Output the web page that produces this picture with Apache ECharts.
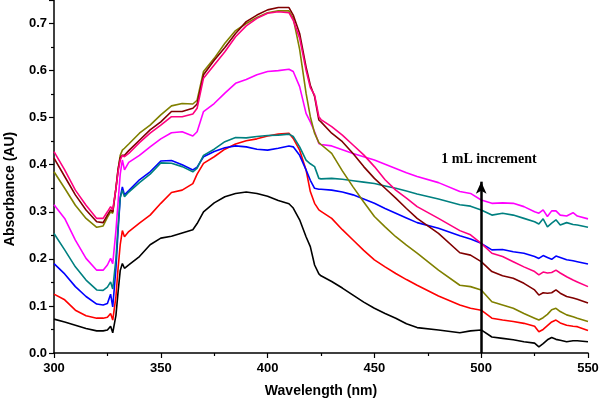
<!DOCTYPE html>
<html><head><meta charset="utf-8">
<script src="https://cdn.jsdelivr.net/npm/echarts@6/dist/echarts.min.js"></script>
<style>html,body{margin:0;padding:0;background:#fff}#c{width:599px;height:402px}</style>
</head><body><div id="c"></div>
<script>
const wavelength = [300,305,310,315,320,323,325,326.5,327.5,329,330,331,332,333,335,340,345,350,355,360,365,367,370,375,380,385,390,395,400,405,410,412,415,418,420,422,424,425,430,435,440,445,450,455,460,465,470,480,490,495,500,505,510,515,520,525,527,529,531,533,535,537,540,543,545,550];

const blackVals = [.072,.066,.059,.052,.047,.047,.049,.057,.043,.08,.13,.175,.19,.18,.187,.205,.23,.244,.248,.255,.262,.275,.30,.319,.332,.339,.342,.339,.333,.324,.317,.308,.283,.247,.226,.187,.168,.164,.152,.138,.123,.108,.095,.084,.074,.062,.054,.049,.043,.047,.049,.034,.031,.028,.024,.021,.013,.02,.028,.033,.029,.027,.024,.026,.026,.024];
const redVals = [.125,.113,.091,.079,.074,.074,.076,.084,.070,.12,.18,.23,.26,.247,.258,.276,.293,.318,.341,.346,.36,.38,.403,.417,.433,.444,.451,.455,.461,.465,.467,.456,.431,.389,.343,.318,.304,.301,.286,.262,.24,.218,.198,.183,.169,.156,.144,.121,.102,.095,.091,.074,.070,.067,.063,.057,.045,.05,.058,.066,.070,.064,.059,.057,.056,.048];
const blueVals = [.19,.168,.141,.12,.104,.102,.105,.125,.098,.18,.26,.33,.353,.336,.345,.368,.385,.408,.409,.40,.389,.395,.417,.428,.436,.44,.438,.433,.431,.435,.44,.438,.42,.389,.367,.35,.348,.348,.346,.342,.336,.327,.318,.307,.297,.287,.277,.265,.249,.242,.233,.219,.22,.215,.212,.205,.201,.207,.203,.199,.206,.203,.198,.196,.194,.189];
const tealVals = [.254,.219,.183,.155,.134,.133,.14,.151,.136,.2,.27,.33,.346,.332,.342,.362,.38,.404,.403,.396,.385,.393,.42,.433,.449,.458,.457,.46,.462,.463,.465,.46,.438,.41,.402,.396,.371,.37,.371,.369,.366,.363,.36,.355,.35,.344,.338,.327,.315,.312,.304,.293,.297,.293,.286,.279,.274,.285,.268,.276,.283,.272,.277,.273,.272,.267];
const magentaVals = [.315,.286,.24,.201,.176,.176,.187,.201,.19,.26,.32,.38,.41,.389,.405,.42,.438,.455,.468,.47,.461,.47,.513,.53,.552,.573,.581,.591,.598,.60,.603,.598,.566,.509,.491,.47,.445,.443,.44,.432,.424,.417,.41,.401,.392,.383,.375,.362,.343,.339,.325,.318,.319,.318,.311,.30,.297,.304,.29,.302,.302,.293,.291,.298,.291,.285];
const oliveVals = [.385,.35,.314,.286,.267,.27,.288,.30,.297,.35,.39,.42,.431,.435,.444,.467,.484,.506,.525,.53,.529,.537,.598,.626,.658,.685,.70,.713,.723,.727,.727,.711,.645,.552,.502,.467,.447,.443,.424,.387,.353,.321,.29,.268,.247,.229,.212,.176,.144,.141,.134,.109,.102,.095,.084,.074,.070,.075,.082,.092,.095,.088,.081,.077,.074,.067];
const wineVals = [.414,.375,.336,.304,.279,.277,.293,.304,.30,.35,.39,.415,.42,.42,.43,.452,.474,.491,.513,.513,.52,.529,.591,.622,.649,.679,.704,.718,.729,.734,.734,.718,.679,.608,.569,.545,.495,.491,.467,.449,.424,.396,.371,.35,.329,.307,.286,.254,.213,.208,.194,.173,.164,.159,.148,.134,.123,.128,.127,.128,.134,.127,.12,.117,.114,.106];
const pinkVals = [.428,.389,.346,.314,.286,.286,.30,.311,.304,.35,.385,.41,.42,.417,.424,.447,.467,.484,.502,.502,.508,.52,.584,.612,.64,.672,.695,.711,.722,.725,.723,.707,.669,.601,.564,.548,.502,.496,.481,.463,.442,.421,.396,.368,.346,.329,.311,.286,.26,.251,.233,.212,.205,.194,.183,.173,.166,.172,.17,.171,.176,.17,.162,.155,.151,.141];

const seriesList = [
  {name:'s1', color:'#000000', vals:blackVals},
  {name:'s2', color:'#FF0000', vals:redVals},
  {name:'s3', color:'#0000FF', vals:blueVals},
  {name:'s4', color:'#008080', vals:tealVals},
  {name:'s5', color:'#FF00FF', vals:magentaVals},
  {name:'s6', color:'#808000', vals:oliveVals},
  {name:'s7', color:'#800000', vals:wineVals},
  {name:'s8', color:'#FF0080', vals:pinkVals}
];
const xTicks = {min:300, max:550, interval:50};
const yTicks = {min:0, max:0.75, interval:0.1};
const arrowX = 500, arrowFrom = 0, arrowTo = 0.364;
const noteText = '1 mL increment';

const chart = echarts.init(document.getElementById('c'), null, {renderer:'canvas'});
const series = seriesList.map(s => ({
  name: s.name, type:'line', showSymbol:false, symbol:'none', animation:false,
  lineStyle:{color:s.color, width:1.6}, itemStyle:{color:s.color},
  data: wavelength.map((w,i)=>[w, s.vals[i]])
}));
series.push({
  type:'line', data:[], animation:false,
  markLine:{
    silent:true, animation:false, symbol:['none','arrow'], symbolSize:[8,12],
    lineStyle:{color:'#000', width:2.5, type:'solid'}, label:{show:false},
    data:[[{coord:[arrowX, arrowFrom]},{coord:[arrowX, arrowTo]}]]
  }
});
const axisFont = {color:'#000', fontWeight:'bold', fontSize:13, fontFamily:'Liberation Sans, Arial, sans-serif'};
chart.setOption({
  animation:false,
  grid:{left:54, right:11, top:0, bottom:49, containLabel:false, outerBoundsMode:'none'},
  xAxis:{type:'value', min:xTicks.min, max:xTicks.max, interval:xTicks.interval,
    axisLine:{show:true, lineStyle:{color:'#000', width:1.5}},
    axisTick:{show:true, inside:false, length:5, lineStyle:{color:'#000', width:1.2}},
    minorTick:{show:true, splitNumber:2, length:3, lineStyle:{color:'#000', width:1.2}},
    splitLine:{show:false},
    axisLabel:{...axisFont, margin:9},
    name:'Wavelength (nm)', nameLocation:'middle', nameGap:31,
    nameTextStyle:{color:'#000', fontWeight:'bold', fontSize:14, fontFamily:'Liberation Sans, Arial, sans-serif'}
  },
  yAxis:{type:'value', min:yTicks.min, max:yTicks.max, interval:yTicks.interval,
    axisLine:{show:true, lineStyle:{color:'#000', width:1.5}},
    axisTick:{show:true, inside:false, length:5, lineStyle:{color:'#000', width:1.2}},
    minorTick:{show:true, splitNumber:2, length:3, lineStyle:{color:'#000', width:1.2}},
    splitLine:{show:false},
    axisLabel:{...axisFont, margin:7, showMaxLabel:false, formatter:v=>v.toFixed(1)}
  },
  graphic:[
    {type:'text', x:10, y:189, rotation:Math.PI/2, style:{text:'Absorbance (AU)', fill:'#000', font:'bold 14px "Liberation Sans", Arial, sans-serif', textAlign:'center', textVerticalAlign:'middle'}},
    {type:'text', x:489, y:159, style:{text:noteText, fill:'#000', font:'bold 14px "Liberation Serif", "Times New Roman", serif', textAlign:'center', textVerticalAlign:'middle'}}
  ],
  series: series
});
</script></body></html>
